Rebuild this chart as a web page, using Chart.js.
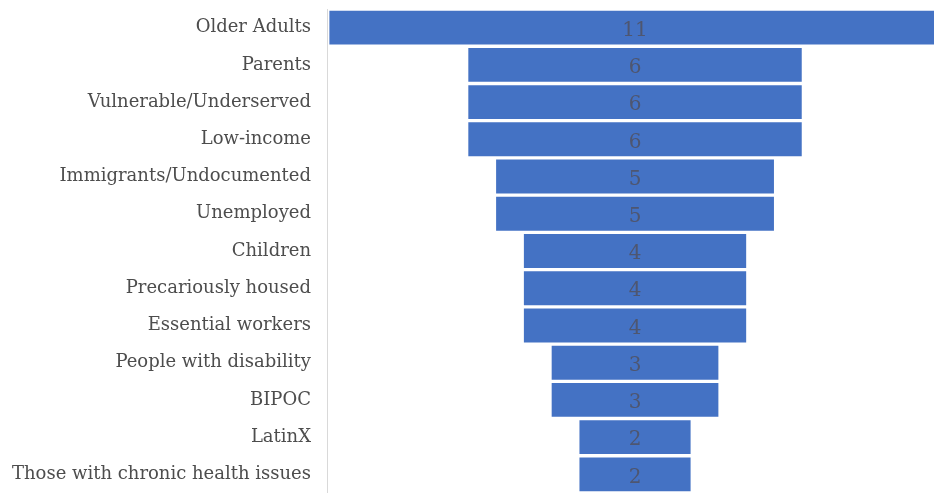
<!DOCTYPE html>
<html>
<head>
<meta charset="utf-8">
<script src="https://cdn.jsdelivr.net/npm/chart.js@4"></script>
<style>
html,body{margin:0;padding:0;background:#fff;}
#wrap{width:934px;height:493px;position:relative;}
</style>
</head>
<body>
<div id="wrap"><canvas id="c" width="934" height="493"></canvas></div>
<script>
const categories = ["Older Adults","Parents","Vulnerable/Underserved","Low-income","Immigrants/Undocumented","Unemployed","Children","Precariously housed","Essential workers","People with disability","BIPOC","LatinX","Those with chronic health issues"];
const counts = [11,6,6,6,5,5,4,4,4,3,3,2,2];

const funnelData = counts.map(v => [-v/2, v/2]);

const valueLabels = {
  id: 'valueLabels',
  afterDatasetsDraw(chart) {
    const ctx = chart.ctx;
    const meta = chart.getDatasetMeta(0);
    ctx.save();
    ctx.font = '20px "DejaVu Serif"';
    ctx.fillStyle = '#4e5670';
    ctx.textAlign = 'center';
    ctx.textBaseline = 'middle';
    meta.data.forEach((bar, i) => {
      const x = chart.scales.x.getPixelForValue(0);
      ctx.fillText(String(counts[i]), x, bar.y + 3);
    });
    ctx.restore();
  }
};

new Chart(document.getElementById('c'), {
  type: 'bar',
  data: {
    labels: categories,
    datasets: [{
      data: funnelData,
      backgroundColor: '#4472C4',
      borderWidth: 0,
      barPercentage: 0.91,
      categoryPercentage: 1.0
    }]
  },
  options: {
    indexAxis: 'y',
    responsive: false,
    animation: false,
    layout: { padding: { top: 9, bottom: -2, left: 0, right: 0 } },
    plugins: { legend: { display: false }, tooltip: { enabled: false } },
    scales: {
      x: {
        display: false,
        min: -5.543,
        max: 5.38
      },
      y: {
        afterFit(scale) { scale.width = 327; scale.paddingTop = 0; scale.paddingBottom = 0; },
        grid: { display: false, drawTicks: false },
        border: { display: true, color: '#d9d9d9', width: 1 },
        ticks: {
          color: '#4d4d4d',
          padding: 16,
          font: { family: '"DejaVu Serif"', size: 18 }
        }
      }
    }
  },
  plugins: [valueLabels]
});
</script>
</body>
</html>
